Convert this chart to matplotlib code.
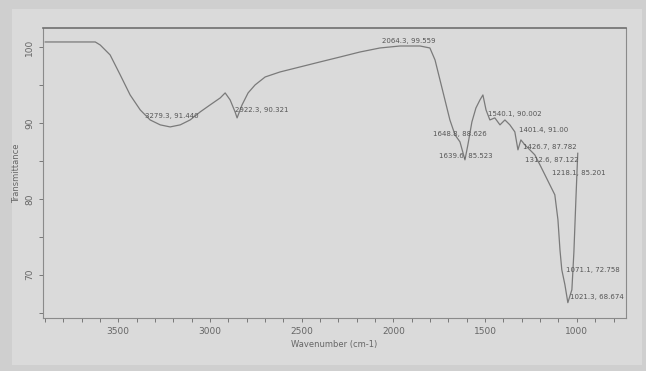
import matplotlib
matplotlib.use('Agg')
import matplotlib.pyplot as plt
from matplotlib.ticker import MultipleLocator
from matplotlib.patches import Rectangle

# spectrum (wavenumber cm-1, transmittance %)
wavenumber = [3898, 3625, 3598, 3544, 3489, 3435, 3380, 3326, 3271, 3217,
              3162, 3108, 3053, 2999, 2944, 2917, 2890, 2863, 2852, 2825,
              2792, 2754, 2699, 2618, 2509, 2400, 2291, 2182, 2073, 1964,
              1855, 1801, 1773, 1746, 1719, 1692, 1664, 1637, 1610, 1594,
              1572, 1550, 1528, 1512, 1495, 1474, 1447, 1419, 1392, 1365,
              1338, 1321, 1305, 1283, 1256, 1229, 1201, 1174, 1147, 1120,
              1103, 1092, 1082, 1065, 1049, 1027, 1016, 1005, 995]
transmittance = [100.66, 100.66, 100.26, 98.95, 96.32, 93.68, 91.71, 90.39, 89.74, 89.47,
                 89.74, 90.39, 91.45, 92.37, 93.29, 93.95, 93.03, 91.45, 90.66, 92.37,
                 93.95, 95.0, 96.05, 96.71, 97.37, 98.03, 98.68, 99.34, 99.87, 100.13,
                 100.13, 99.87, 98.29, 95.66, 93.03, 90.39, 88.42, 87.5, 85.13, 87.1,
                 90.13, 91.97, 93.03, 93.68, 91.71, 90.39, 90.66, 89.74, 90.39, 89.74,
                 88.82, 86.45, 87.76, 87.1, 86.45, 85.79, 84.47, 83.16, 81.84, 80.53,
                 77.24, 73.29, 70.66, 68.68, 66.32, 68.03, 73.0, 80.0, 86.0]

peak_labels = ["3279.3, 91.440", "2922.3, 90.321", "2064.3, 99.559",
               "1648.8, 88.626", "1639.6, 85.523", "1540.1, 90.002",
               "1401.4, 91.00", "1426.7, 87.782", "1312.6, 87.122",
               "1218.1, 85.201", "1071.1, 72.758", "1021.3, 68.674"]
peak_x = [3217, 2852, 1964, 1637, 1610, 1474, 1338, 1321, 1229, 1174, 1092, 1049]
peak_y = [89.47, 90.66, 100.13, 87.5, 85.13, 90.39, 88.82, 86.45, 85.79, 83.16, 70.92, 66.32]
# label offsets in pixels (dx, dy) and alignment
label_dx = [2, -2, -18, 0, 1, -2, 4, 5, -10, 7, 6, 2]
label_dy = [11, 8, 5, 8, 4, 6, 2, 3, -5, 2, -2, 6]
label_ha = ['center', 'left', 'left', 'center', 'center', 'left',
            'left', 'left', 'left', 'left', 'left', 'left']

fig = plt.figure(figsize=(6.46, 3.71), dpi=100, facecolor='#cfcfcf')
fig.patches.append(Rectangle((12 / 646, 6 / 371), 630 / 646, 356 / 371,
                             transform=fig.transFigure, facecolor='#dadada',
                             edgecolor='none', zorder=-10))
ax = fig.add_axes([43 / 646, 1 - 318 / 371, 583 / 646, 290 / 371])
ax.set_facecolor('#dadada')

ax.plot(wavenumber, transmittance, color='#7a7a7a', lw=0.9)

for lab, px, py, dx, dy, ha in zip(peak_labels, peak_x, peak_y, label_dx, label_dy, label_ha):
    ax.annotate(lab, (px, py), xytext=(dx * 0.72, dy * 0.72), textcoords='offset points',
                ha=ha, va='center', fontsize=5, color='#555555')

ax.set_xlim(3910, 732)
ax.set_ylim(64.3, 102.5)
ax.xaxis.set_major_locator(MultipleLocator(500))
ax.xaxis.set_minor_locator(MultipleLocator(100))
ax.yaxis.set_major_locator(MultipleLocator(10))
ax.yaxis.set_minor_locator(MultipleLocator(5))
ax.tick_params(which='both', colors='#777777', labelcolor='#666666', labelsize=6.5, length=3, width=0.7)
for lbl in ax.get_yticklabels():
    lbl.set_rotation(90)
    lbl.set_va('center')

for s in ['left', 'right', 'bottom']:
    ax.spines[s].set_color('#8a8a8a')
    ax.spines[s].set_linewidth(0.8)
ax.spines['top'].set_color('#6f6f6f')
ax.spines['top'].set_linewidth(1.2)

ax.set_xlabel('Wavenumber (cm-1)', fontsize=6, color='#666666', labelpad=3)
ax.set_ylabel('Transmittance', fontsize=6, color='#666666', labelpad=3)

fig.savefig('out.png', dpi=100, facecolor=fig.get_facecolor())
